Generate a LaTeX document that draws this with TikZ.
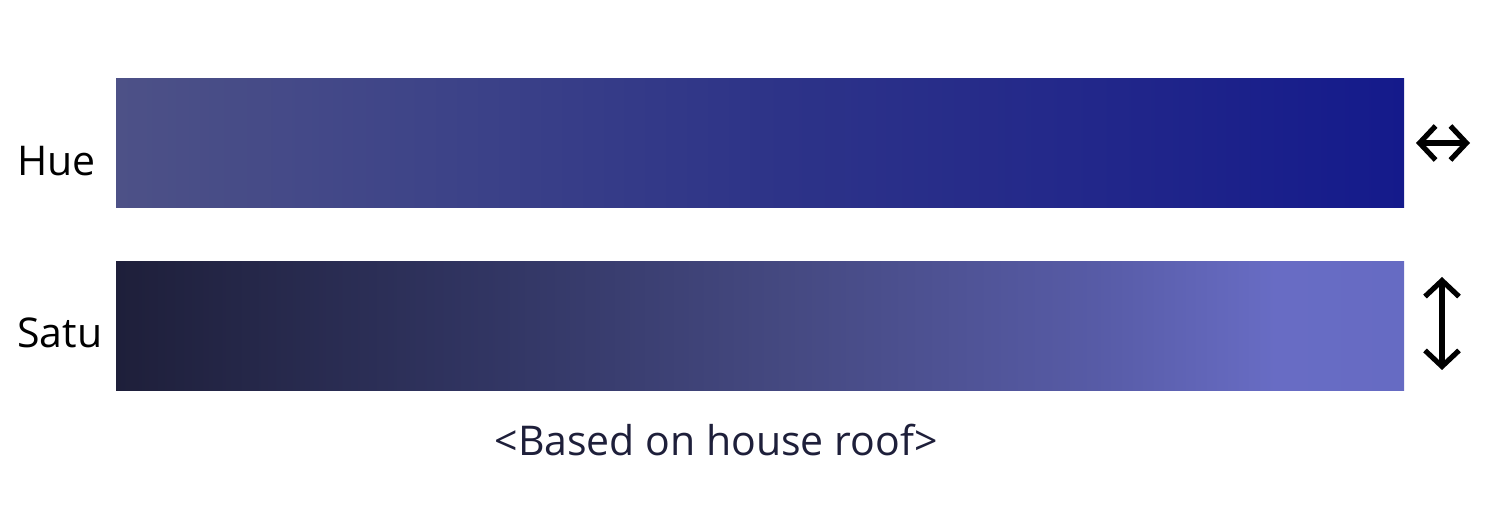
\documentclass[tikz,border=0pt]{standalone}
\usepackage{fontspec}
\setmainfont{Open Sans}
\usetikzlibrary{arrows.meta}
\definecolor{hA}{HTML}{4D5187}
\definecolor{hB}{HTML}{3E4488}
\definecolor{hC}{HTML}{2E3488}
\definecolor{hD}{HTML}{22278A}
\definecolor{hE}{HTML}{141A8B}
\definecolor{sA}{HTML}{1E1F3A}
\definecolor{sB}{HTML}{323664}
\definecolor{sC}{HTML}{454981}
\definecolor{sD}{HTML}{575BA6}
\definecolor{sE}{HTML}{686CC4}
\definecolor{sF}{HTML}{666BC3}
\definecolor{captioncol}{HTML}{1E1F3A}
\pgfdeclarehorizontalshading{hueshade}{100bp}{color(0bp)=(hA); color(25bp)=(hA); color(37bp)=(hB); color(50bp)=(hC); color(63bp)=(hD); color(75bp)=(hE); color(100bp)=(hE)}
\pgfdeclarehorizontalshading{satushade}{100bp}{color(0bp)=(sA); color(25bp)=(sA); color(40bp)=(sB); color(51bp)=(sC); color(63bp)=(sD); color(70bp)=(sE); color(75bp)=(sF); color(100bp)=(sF)}
\tikzset{
  bar/.style={minimum width=644pt, minimum height=64.5pt, inner sep=0pt, outer sep=0pt, draw=none},
  lbl/.style={font=\fontsize{20.5pt}{24pt}\selectfont, text=black, inner sep=0pt},
  dblarrow/.style={line width=2.6pt, {Straight Barb[length=8pt,width=17pt,line width=2.6pt]}-{Straight Barb[length=8pt,width=17pt,line width=2.6pt]}}
}
\begin{document}
\begin{tikzpicture}[x=0.5pt,y=-0.5pt]
\useasboundingbox (0,0) rectangle (1500,528);
\node[bar, shading=hueshade] (hue) at (760,143.5) {};
\node[bar, shading=satushade] (satu) at (760,326) {};
\node[lbl, anchor=west] (huel) at (17,161) {Hue};
\node[lbl, anchor=west] (satul) at (17,333) {Satu};
\node[lbl, text=captioncol] (cap) at (716,440) {<Based on house roof>};
\coordinate (h1) at (1416,143);
\coordinate (h2) at (1470,143);
\coordinate (v1) at (1442,277);
\coordinate (v2) at (1442,370);
\draw[dblarrow] (h1) -- (h2);
\draw[dblarrow] (v1) -- (v2);
\end{tikzpicture}
\end{document}
